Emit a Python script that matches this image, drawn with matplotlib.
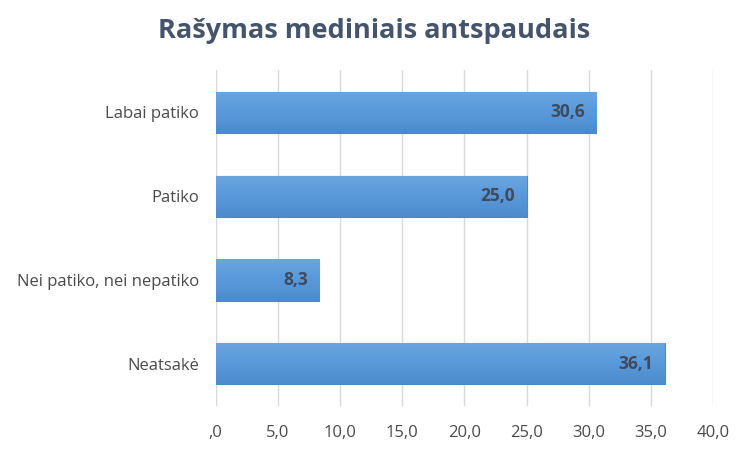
import matplotlib.pyplot as plt
import numpy as np
from matplotlib.colors import LinearSegmentedColormap

# data
categories = ['Labai patiko', 'Patiko', 'Nei patiko, nei nepatiko', 'Neatsakė']
values = [30.6, 25.0, 8.3, 36.1]
xticks = [0, 5, 10, 15, 20, 25, 30, 35, 40]
xticklabels = [',0', '5,0', '10,0', '15,0', '20,0', '25,0', '30,0', '35,0', '40,0']

plt.rcParams['font.family'] = ['Open Sans', 'DejaVu Sans']

fig = plt.figure(figsize=(7.49, 4.5), dpi=100)
ax = fig.add_axes([0.288, 0.098, 0.664, 0.746])

y_pos = np.arange(len(categories))
bar_h = 0.49
bars = ax.barh(y_pos, values, height=bar_h, color='#5B9BD5', edgecolor='#4A89C8', linewidth=0.8, zorder=2)

# vertical gradient inside each bar
grad = np.linspace(0, 1, 64).reshape(-1, 1)
cmap = LinearSegmentedColormap.from_list('bar', ['#6AA5E0', '#5999DA', '#4D8BCB'])
for b in bars:
    x0, y0 = b.get_x(), b.get_y()
    w, h = b.get_width(), b.get_height()
    im = ax.imshow(grad, cmap=cmap, aspect='auto', extent=[x0, x0 + w, y0 + h, y0], zorder=2.5)
    im.set_clip_path(b)

for y, v in zip(y_pos, values):
    ax.text(v - 0.9, y, f'{v:.1f}'.replace('.', ','), ha='right', va='center',
            fontsize=12.5, fontweight='bold', color='#3F4A5C', zorder=4)

ax.set_xlim(0, 40)
ax.set_ylim(len(categories) - 0.5, -0.5)
ax.set_yticks(y_pos)
ax.set_yticklabels(categories, fontsize=12, color='#4A4A4A')
ax.set_xticks(xticks)
ax.set_xticklabels(xticklabels, fontsize=12, color='#4A4A4A')
ax.tick_params(length=0, pad=12)
ax.tick_params(axis='x', pad=14)
ax.xaxis.grid(True, color='#D9D9D9', linewidth=1, zorder=0)
ax.set_axisbelow(True)
for s in ax.spines.values():
    s.set_visible(False)

fig.text(0.5, 0.93, 'Rašymas mediniais antspaudais', ha='center', va='center',
         fontsize=19.5, fontweight='bold', color='#44546A')

fig.savefig('out.png', dpi=100)
